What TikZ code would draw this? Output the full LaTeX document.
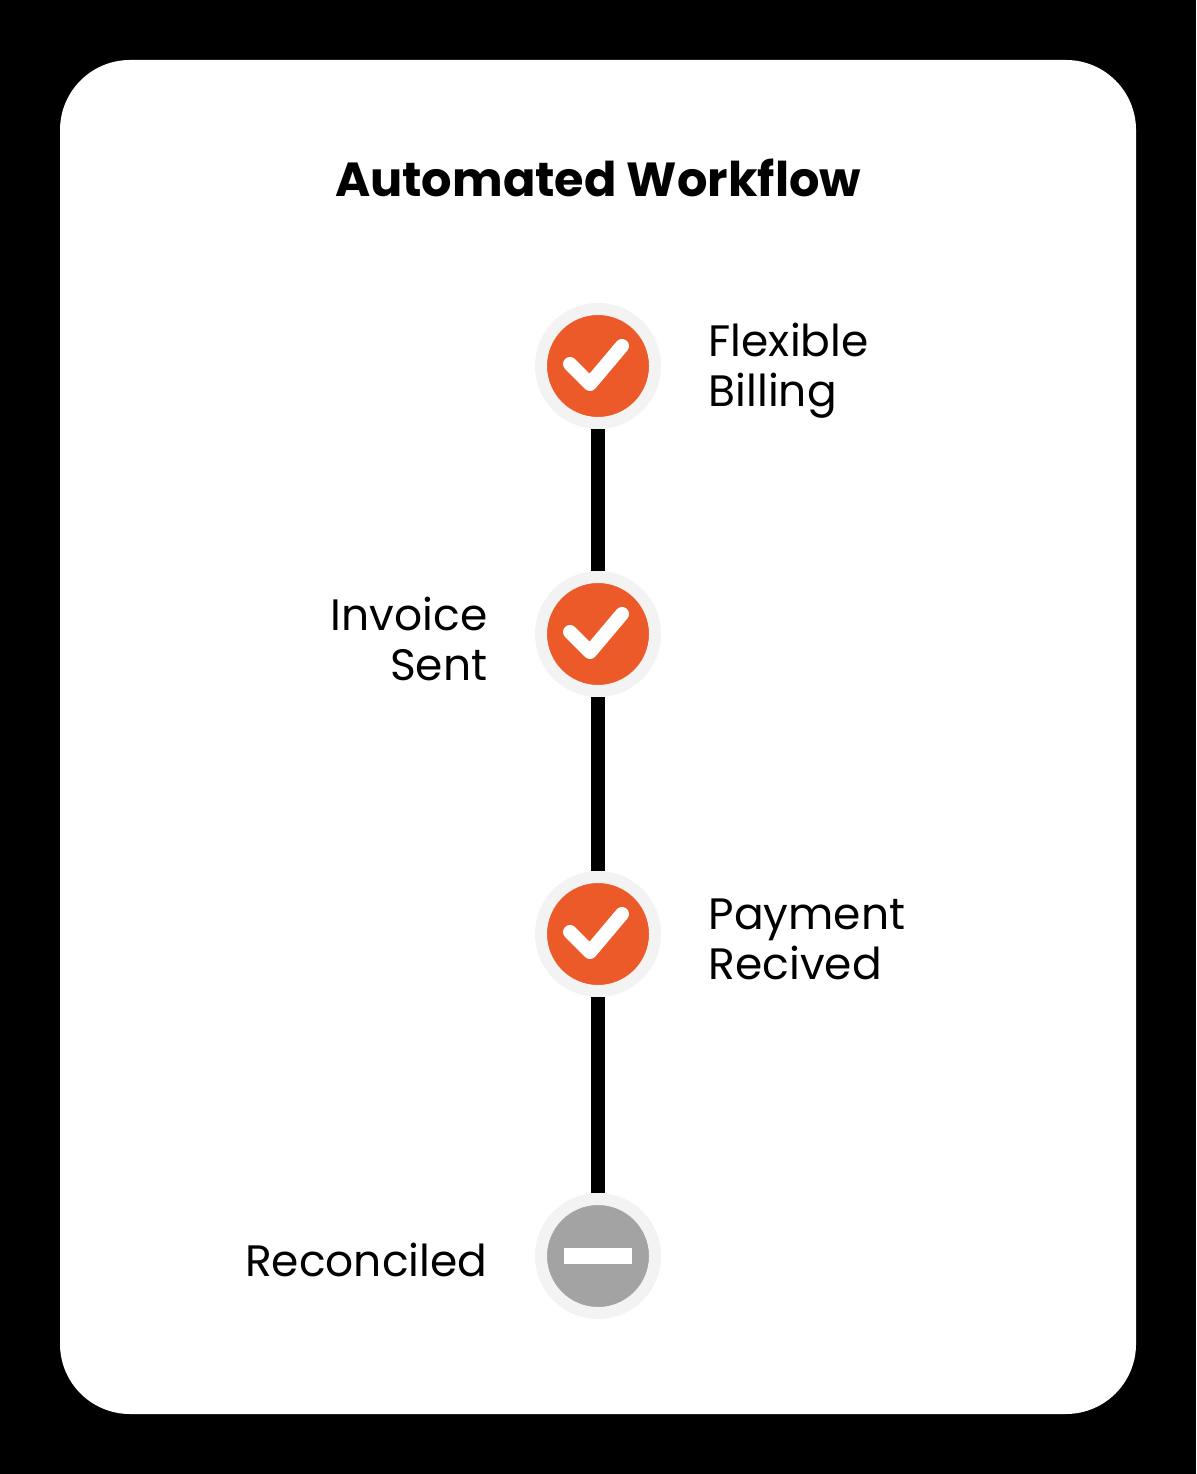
\documentclass[tikz,border=0pt]{standalone}
\usepackage{fontspec}
\setmainfont{Poppins}
\usetikzlibrary{positioning}
\definecolor{stepdone}{HTML}{EB5A28}
\definecolor{steppend}{HTML}{A3A3A3}
\definecolor{halo}{HTML}{F3F3F3}
\tikzset{
  stage/.style={circle,minimum size=11.4mm,inner sep=0pt,draw=halo,line width=1.2mm},
  lbl/.style={font=\fontsize{12.5}{14.2}\selectfont,align=left,inner sep=0pt},
  link/.style={line width=1.4mm,black}
}
\begin{document}
\begin{tikzpicture}[x=0.01cm,y=-0.01cm]
\useasboundingbox (0,0) rectangle (1196,1474);
\fill[black] (0,0) rectangle (1196,1474);
\fill[white,rounded corners=0.7cm] (60,60) rectangle (1136,1414);

\node[font=\fontsize{13.6}{16}\selectfont\bfseries] (title) at (598,178) {Automated Workflow};

\node[stage,fill=stepdone] (s1) at (598,366) {};
\node[stage,fill=stepdone] (s2) at (598,634) {};
\node[stage,fill=stepdone] (s3) at (598,934) {};
\node[stage,fill=steppend] (s4) at (598,1256) {};

\draw[link] (s1) -- (s2);
\draw[link] (s2) -- (s3);
\draw[link] (s3) -- (s4);

% ticks and bar
\foreach \n in {s1,s2,s3}
  \draw[white,line width=1.4mm,line cap=round,line join=round]
    ([shift={(-28,-2)}]\n.center) -- ([shift={(-8,18)}]\n.center) -- ([shift={(24,-20)}]\n.center);
\fill[white] ([shift={(-34,-8)}]s4.center) rectangle ([shift={(34,8)}]s4.center);

\node[lbl,anchor=west] (l1) at (708,371) {Flexible\\Billing};
\node[lbl,anchor=east,align=right] (l2) at (488,639) {Invoice\\Sent};
\node[lbl,anchor=west] (l3) at (708,939) {Payment\\Recived};
\node[lbl,anchor=east,align=right] (l4) at (488,1260) {Reconciled};
\end{tikzpicture}
\end{document}
